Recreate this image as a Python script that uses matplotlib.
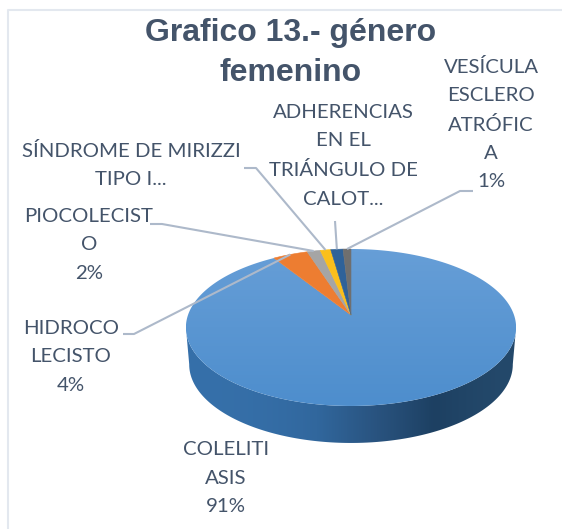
import numpy as np
import matplotlib
matplotlib.use('Agg')
import matplotlib.pyplot as plt
from matplotlib.patches import Polygon

# clockwise from 12 o'clock, last slice ends back at the top
categories = ['COLELITIASIS', 'HIDROCOLECISTO', 'PIOCOLECISTO', 'SINDROME', 'ADHERENCIAS', 'VESICULA']
shares = [91.0, 4.0, 1.5, 1.2, 1.4, 0.9]
colors = ['#5b9bd5', '#ed7d31', '#a5a5a5', '#fbbf1c', '#2f6299', '#6f6f6f']

title_lines = 'Grafico 13.- género\nfemenino'
label_texts = [
    'COLELITI\nASIS\n91%',
    'HIDROCO\nLECISTO\n4%',
    'PIOCOLECIST\nO\n2%',
    'SÍNDROME DE MIRIZZI\nTIPO I...',
    'ADHERENCIAS\nEN EL\nTRIÁNGULO DE\nCALOT...',
    'VESÍCULA\nESCLERO\nATRÓFIC\nA\n1%',
]
label_pos = [(226, 478), (71, 357), (89, 245), (131, 165), (343, 156), (491, 124)]
# leader start next to the label, elbow, then pie edge is worked out from the share
leader_start = [None, (123, 334), (150, 224), (244, 168), (335, 221), (473, 191)]
leader_elbow = [None, (134, 334), (162, 224), (256, 168), (335, 221), (460, 191)]

TEXT = '#44546a'
LINE = '#adb9ca'

# pie geometry in picture pixels, with a perspective tilt
CX, CY = 351, 315
A, B, K = 163, 76.5, 0.159
DEPTH = 37


def project(theta):
    # theta is clockwise from the top of the circle
    u, v = np.sin(theta), np.cos(theta)
    return CX + A * u / (1 + K * v), CY - B * v / (1 + K * v)


fig = plt.figure(figsize=(5.62, 5.29), dpi=100, facecolor='white')
ax = fig.add_axes([0, 0, 1, 1])
ax.axis('off')

# chart frame runs off the picture on the right and at the bottom
ax.plot([8, 8, 562], [529, 10, 10], color='#e3e8ef', lw=1.5, zorder=0)

# side wall
t = np.linspace(0, 2 * np.pi, 721)
ex, ey = project(t)
left, right = np.argmin(ex), np.argmax(ex)
front_top = np.column_stack([ex[right:left + 1], ey[right:left + 1]])
front_bot = np.column_stack([CX + (front_top[:, 0] - CX) * 0.98, front_top[:, 1] + DEPTH])
wall = Polygon(np.vstack([front_top, front_bot[::-1]]), closed=True, fc='none', ec='none')
ax.add_patch(wall)
wall_grad = np.array([[0, 0.1, 0.4, 0.65, 1.0]])
wall_cmap = matplotlib.colors.LinearSegmentedColormap.from_list(
    'wall', ['#3670aa', '#31679d', '#29537f', '#1d4062', '#24496b'])
im = ax.imshow(wall_grad, extent=(186, 516, 460, 320), aspect='auto', cmap=wall_cmap,
               interpolation='bicubic', zorder=1)
im.set_clip_path(wall)

# top face, slices from the shares
edges = np.cumsum([0] + shares) / sum(shares) * 2 * np.pi
for i, (start, end) in enumerate(zip(edges[:-1], edges[1:])):
    a = np.linspace(start, end, max(int((end - start) * 120), 4))
    px, py = project(a)
    pts = np.column_stack([np.r_[CX, px], np.r_[CY, py]])
    wedge = Polygon(pts, closed=True, fc=colors[i], ec=colors[i], lw=0.4, zorder=2)
    ax.add_patch(wedge)
    if i == 0:
        wedge.set_facecolor('none')
        wedge.set_edgecolor('none')
        cmap = matplotlib.colors.LinearSegmentedColormap.from_list('top', ['#669ed7', '#4e8ecd'])
        g = ax.imshow(np.linspace(0, 1, 50)[:, None], extent=(186, 516, 406, 249), aspect='auto',
                      cmap=cmap, zorder=2, origin='upper')
        g.set_clip_path(wedge)

# leader lines
mids = (edges[:-1] + edges[1:]) / 2
for i in range(1, len(categories)):
    ex_i, ey_i = project(mids[i])
    ax.plot([leader_start[i][0], leader_elbow[i][0], ex_i], [leader_start[i][1], leader_elbow[i][1], ey_i],
            color=LINE, lw=1.5, zorder=3, solid_capstyle='butt')

for txt, (x, y) in zip(label_texts, label_pos):
    ax.text(x, y, txt, ha='center', va='center', color=TEXT, fontsize=14.7, family='Lato', linespacing=1.8, zorder=4)

ax.text(291, 53, title_lines, ha='center', va='center', color=TEXT, fontsize=23,
        family='Liberation Sans', fontweight='bold', linespacing=1.42, zorder=4)

# imshow resets the limits, so fix them last
ax.set_xlim(0, 562)
ax.set_ylim(529, 0)

fig.savefig('out.png', dpi=100)
